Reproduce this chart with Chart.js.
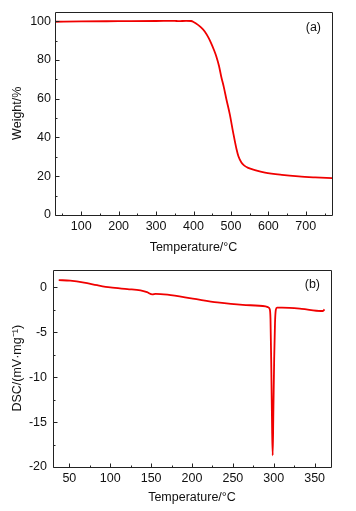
<!DOCTYPE html>
<html>
<head>
<meta charset="utf-8">
<script src="https://cdn.jsdelivr.net/npm/chart.js@4.4.1/dist/chart.umd.min.js"></script>
<style>
  html, body { margin: 0; padding: 0; background: #fff; }
  #tga { position: absolute; left: 0; top: 0; }
  #dsc { position: absolute; left: 0; top: 256px; }
</style>
</head>
<body>
<canvas id="tga" width="356" height="256"></canvas>
<canvas id="dsc" width="356" height="255"></canvas>
<script>
// (a) TGA curve
const tgaTemp   = [30, 100, 200, 300, 350, 360, 380, 394, 400, 412, 420, 430, 440, 447, 455, 461, 468, 474, 481, 488, 497, 506, 515, 520, 528, 535, 546, 564, 591, 636, 681, 725, 770];
const tgaWeight = [99.7, 99.9, 100.0, 100.1, 100.2, 100.0, 100.2, 100.1, 99.6, 98.1, 96.8, 94.7, 91.5, 88.7, 85.0, 81.8, 77.0, 71.5, 66.0, 59.6, 51.9, 42.5, 33.9, 30.3, 27.1, 25.6, 24.3, 23.2, 21.9, 20.7, 19.9, 19.4, 19.0];
const tgaXTicks = [100, 200, 300, 400, 500, 600, 700];
const tgaYTicks = [0, 20, 40, 60, 80, 100];

// (b) DSC curve
const dscTemp   = [37, 51, 68, 84, 100, 121, 137, 145, 151.5, 155.5, 170, 201, 231, 262, 290, 293, 295, 296, 297, 298, 298.7, 299.5, 300.5, 301.5, 302.5, 304, 310, 334, 358, 360.5, 362];
const dscSignal = [0.82, 0.75, 0.54, 0.25, 0.0, -0.18, -0.32, -0.53, -0.78, -0.71, -0.81, -1.24, -1.67, -1.95, -2.1, -2.2, -2.4, -3.5, -9, -16, -18.7, -14, -8, -4, -2.5, -2.25, -2.25, -2.38, -2.62, -2.6, -2.45];
const dscXTicks = [50, 100, 150, 200, 250, 300, 350];
const dscYTicks = [-20, -15, -10, -5, 0];

const fontFamily = '"Liberation Sans", Arial, sans-serif';
const red = 'rgb(240,0,0)';

const frame = {
  id: 'frame',
  afterDraw(chart, args, opts) {
    const { ctx, chartArea: a, scales: { x, y } } = chart;
    const l = Math.round(a.left) + 0.5, r = Math.round(a.right) + 0.5;
    const t = Math.round(a.top) + 0.5, b = Math.round(a.bottom) + 0.5;
    ctx.save();
    ctx.strokeStyle = '#222';
    ctx.lineWidth = 1;
    ctx.beginPath();
    ctx.moveTo(l, t); ctx.lineTo(r, t); ctx.lineTo(r, b); ctx.lineTo(l, b); ctx.closePath();
    for (let v = Math.ceil(x.min / opts.xMinor) * opts.xMinor; v <= x.max; v += opts.xMinor) {
      const px = Math.round(x.getPixelForValue(v)) + 0.5;
      const len = opts.xTicks.includes(v) ? 4 : 2;
      ctx.moveTo(px, b);
      ctx.lineTo(px, b - len);
    }
    for (let v = Math.ceil(y.min / opts.yMinor) * opts.yMinor; v <= y.max; v += opts.yMinor) {
      const py = Math.round(y.getPixelForValue(v)) + 0.5;
      const len = opts.yTicks.includes(v) ? 4 : 2;
      ctx.moveTo(l, py);
      ctx.lineTo(l + len, py);
    }
    ctx.stroke();
    ctx.fillStyle = '#111';
    ctx.font = '12.5px ' + fontFamily;
    ctx.textAlign = 'right';
    ctx.textBaseline = 'middle';
    ctx.fillText(opts.label, a.right - 11, a.top + opts.labelDy);
    ctx.restore();
  }
};

function makeChart(el, xs, ys, cfg) {
  return new Chart(el, {
    type: 'line',
    data: {
      datasets: [{
        data: xs.map((t, i) => ({ x: t, y: ys[i] })),
        borderColor: red,
        borderWidth: 1.8,
        pointRadius: 0,
        cubicInterpolationMode: 'monotone',
        fill: false
      }]
    },
    options: {
      responsive: false,
      animation: false,
      layout: { padding: cfg.padding },
      plugins: {
        legend: { display: false },
        tooltip: { enabled: false },
        frame: { label: cfg.label, labelDy: cfg.labelDy, xMinor: cfg.xMinor, yMinor: cfg.yMinor, xTicks: cfg.xTicks, yTicks: cfg.yTicks }
      },
      scales: {
        x: {
          type: 'linear',
          min: cfg.xMin, max: cfg.xMax,
          afterBuildTicks: s => { s.ticks = cfg.xTicks.map(v => ({ value: v })); },
          afterFit: s => { s.height = cfg.xHeight; },
          grid: { display: false, drawTicks: false },
          border: { display: false },
          ticks: { padding: 4, color: '#111', maxRotation: 0, font: { family: fontFamily, size: 12.5 } },
          title: { display: true, text: 'Temperature/°C', color: '#111', padding: 0, font: { family: fontFamily, size: 12.5 } }
        },
        y: {
          min: cfg.yMin, max: cfg.yMax,
          afterBuildTicks: s => { s.ticks = cfg.yTicks.map(v => ({ value: v })); },
          afterFit: s => { s.width = cfg.yWidth; },
          grid: { display: false, drawTicks: false },
          border: { display: false },
          ticks: { padding: cfg.yPad, color: '#111', font: { family: fontFamily, size: 12.5 } },
          title: { display: true, text: cfg.yTitle, color: '#111', padding: { top: 10, bottom: 0 }, font: { family: fontFamily, size: 12.5 } }
        }
      }
    },
    plugins: [frame]
  });
}

makeChart(document.getElementById('tga'), tgaTemp, tgaWeight, {
  padding: { left: 0, right: 24, top: 11, bottom: 1 },
  xMin: 30, xMax: 770, yMin: 0, yMax: 105,
  xTicks: tgaXTicks, yTicks: tgaYTicks, xMinor: 50, yMinor: 10,
  xHeight: 40, yWidth: 55, yPad: 4,
  yTitle: 'Weight/%', label: '(a)', labelDy: 16
});

makeChart(document.getElementById('dsc'), dscTemp, dscSignal, {
  padding: { left: 0, right: 25, top: 6, bottom: 6 },
  xMin: 30, xMax: 370, yMin: -20, yMax: 2,
  xTicks: dscXTicks, yTicks: dscYTicks, xMinor: 25, yMinor: 2.5,
  xHeight: 38, yWidth: 53, yPad: 6,
  yTitle: 'DSC/(mV·mg⁻¹)', label: '(b)', labelDy: 15
});
</script>
</body>
</html>
